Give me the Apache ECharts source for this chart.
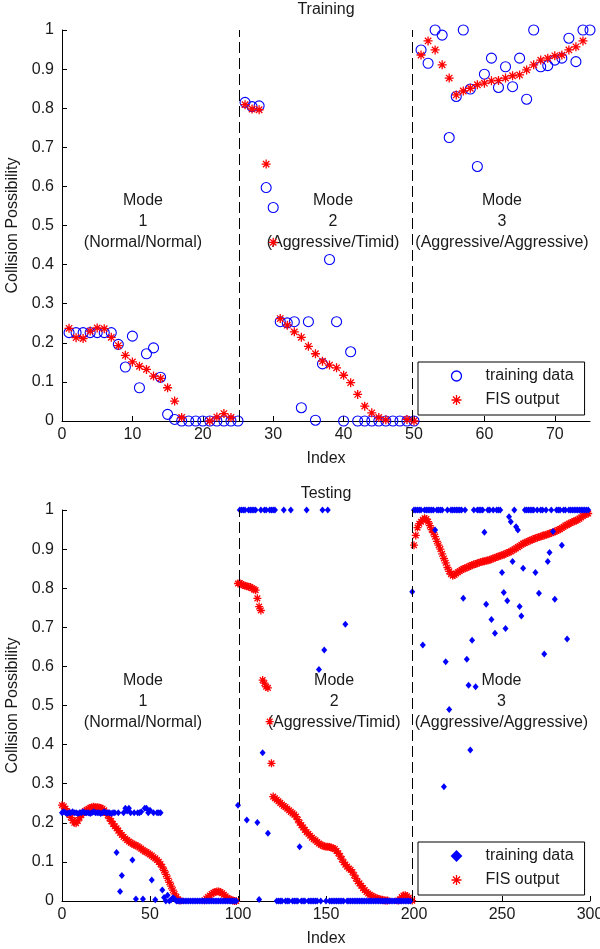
<!DOCTYPE html>
<html><head><meta charset="utf-8">
<script src="https://cdn.jsdelivr.net/npm/echarts@6/dist/echarts.min.js"></script>
<style>html,body{margin:0;padding:0;background:#fff}#c{width:600px;height:949px}</style>
</head><body><div id="c"></div>
<script>
// ---------- DATA ----------
// Training (index 1..75)
const trainData = [0.226,0.226,0.226,0.226,0.226,0.226,0.226,0.196,0.138,0.217,0.085,0.172,0.187,0.112,0.017,0.004,0,0,0,0,0,0,0,0,0,
  0.815,0.804,0.806,0.597,0.546,0.254,0.251,0.254,0.034,0.254,0.002,0.146,0.413,0.254,0,0.177,0,0,0,0,0,0,0,0,0,
  0.949,0.915,1.0,0.987,0.725,0.830,1.0,0.849,0.651,0.887,0.928,0.853,0.906,0.855,0.928,0.823,1.0,0.906,0.909,0.923,0.928,0.979,0.919,1.0,1.0];
const trainFis = [0.237,0.213,0.211,0.230,0.238,0.236,0.214,0.193,0.168,0.151,0.140,0.132,0.115,0.109,0.085,0.051,0.009,-0.02,-0.02,-0.02,0.000,0.010,0.019,0.009,-0.02,
  0.809,0.798,0.796,0.657,0.457,0.262,0.245,0.228,0.214,0.191,0.172,0.153,0.143,0.136,0.117,0.098,0.068,0.038,0.021,0.009,0.003,-0.02,-0.02,0.004,0.000,
  0.936,0.972,0.949,0.911,0.877,0.834,0.844,0.851,0.860,0.864,0.870,0.871,0.877,0.883,0.885,0.898,0.911,0.923,0.928,0.934,0.936,0.949,0.957,0.972,1.02];
// Testing (index 0..299)
const testData = [
  0.226,0.228,0.226,0.224,0.226,0.226,0.228,0.226,0.226,0.224,
  0.226,0.226,0.228,0.226,0.226,0.226,0.224,0.226,0.228,0.226,
  0.226,0.226,0.224,0.226,0.228,0.226,0.226,0.226,0.224,0.226,
  0.226,0.124,0.226,0.024,0.065,0.226,0.237,0.230,0.237,0.226,
  0.105,0.226,0.005,0.226,0.226,0.228,0.005,0.237,0.237,0.226,
  0.232,0.054,0.226,0.003,0.226,0.226,0.226,0.028,0.009,0,
  0.015,0,0.003,0.008,0.005,0,0,0,0,0,
  0,0,0,0,0,0,0,0,0,0,
  0,0,0,0,0,0,0,0,0,0,
  0,0,0,0,0,0,0,0,0,0,
  0.245,1,1,1,1,0.207,1,1,1,1,
  1,0.201,0.004,1,0.379,1,1,0.173,1,1,
  1,1,0,0,0,0,1,0,0,0,
  1,0,0,0,0,0.139,0,0,0,1,
  0,0,0,0,0,0,0.592,0,1,0.642,
  0,1,0,0,0,0,0,0,0,0,
  0,0.708,0,0,0,0,0,0,0,0,
  0,0,0,0,0,0,0,0,0,0,
  0,0,0,0,0,0,0,0,0,0,
  0,0,0,0,0,0,0,0,0,0.791,
  1,1,1,1,1,0.655,1,1,1,1,
  1,1,0.949,1,1,1,1,0.292,0.612,1,
  0.490,1,1,1,1,1,1,1,0.774,1,
  0.618,0.552,0.386,0.667,1,0.548,1,1,1,1,
  0.943,0.759,1,1,0.720,1,0.685,1,1,1,
  0.840,0.789,0.697,0.768,0.983,0.970,0.868,1,0.957,0.949,
  0.753,0.729,0.851,1,1,1,1,1,1,0.840,
  1,0.787,1,1,0.632,1,0.868,0.891,1,0.945,
  0.772,1,1,1,0.910,1,1,0.670,1,1,
  1,1,1,1,1,1,1,1,1,1];
const testFis = [
  0.245,0.242,0.236,0.229,0.222,0.214,0.206,0.200,0.199,0.205,
  0.213,0.220,0.226,0.230,0.233,0.236,0.238,0.240,0.241,0.240,
  0.240,0.239,0.238,0.236,0.232,0.226,0.219,0.211,0.204,0.197,
  0.191,0.186,0.180,0.174,0.169,0.164,0.160,0.156,0.152,0.149,
  0.147,0.144,0.142,0.140,0.137,0.134,0.130,0.127,0.125,0.122,
  0.119,0.116,0.112,0.109,0.105,0.100,0.094,0.087,0.078,0.068,
  0.058,0.048,0.038,0.028,0.018,0.010,0.004,0.001,-0.02,-0.02,
  -0.02,-0.02,-0.02,-0.02,-0.02,-0.02,-0.02,-0.02,-0.02,-0.02,
  -0.02,0.002,0.006,0.010,0.014,0.018,0.021,0.023,0.024,0.024,
  0.023,0.020,0.016,0.012,0.008,0.005,0.003,0.001,0.000,0.000,
  0.812,0.813,0.810,0.808,0.806,0.805,0.804,0.803,0.800,0.797,
  0.795,0.774,0.753,0.743,0.565,0.557,0.548,0.545,0.459,0.352,
  0.267,0.263,0.259,0.255,0.251,0.247,0.243,0.240,0.236,0.232,
  0.228,0.224,0.221,0.216,0.208,0.200,0.194,0.188,0.182,0.176,
  0.172,0.167,0.162,0.158,0.155,0.151,0.147,0.144,0.142,0.140,
  0.139,0.139,0.138,0.137,0.135,0.133,0.128,0.122,0.115,0.107,
  0.099,0.093,0.088,0.083,0.080,0.074,0.066,0.058,0.050,0.045,
  0.039,0.033,0.028,0.023,0.019,0.016,0.013,0.011,0.008,0.007,
  0.005,0.004,0.003,0.002,0.001,0.001,-0.02,-0.02,-0.02,-0.02,
  -0.02,0.001,0.004,0.010,0.014,0.015,0.012,0.008,0.004,0.001,
  0.910,0.935,0.955,0.965,0.970,0.975,0.979,0.977,0.970,0.960,
  0.950,0.942,0.932,0.920,0.910,0.900,0.888,0.876,0.865,0.853,
  0.843,0.836,0.832,0.834,0.838,0.841,0.844,0.847,0.849,0.851,
  0.853,0.855,0.857,0.859,0.861,0.862,0.864,0.865,0.867,0.868,
  0.869,0.870,0.871,0.873,0.874,0.876,0.878,0.880,0.881,0.883,
  0.884,0.886,0.888,0.890,0.892,0.894,0.897,0.899,0.902,0.905,
  0.908,0.911,0.914,0.916,0.918,0.920,0.922,0.924,0.926,0.928,
  0.929,0.931,0.932,0.934,0.935,0.937,0.938,0.940,0.941,0.943,
  0.945,0.947,0.949,0.951,0.954,0.957,0.960,0.962,0.965,0.967,
  0.969,0.971,0.973,0.975,0.978,0.981,0.985,0.988,0.990,0.991];
const topXTicks = [0,10,20,30,40,50,60,70];
const botXTicks = [0,50,100,150,200,250,300];
const yTicks = [0,0.1,0.2,0.3,0.4,0.5,0.6,0.7,0.8,0.9,1];
const modeLabels = ['Mode\n1\n(Normal/Normal)','Mode\n2\n(Aggressive/Timid)','Mode\n3\n(Aggressive/Aggressive)'];
const legendNames = ['training data','FIS output'];

// ---------- LAYOUT / STYLE ----------
const trainIndex = trainData.map((v,i)=>i+1);
const testIndex = testData.map((v,i)=>i);
const topModeAnchorX = [11.5, 38.5, 62.5];
const botModeAnchorX = [46, 154.6, 249.7];
const modeAnchorY = 0.511;
const topDividers = [25.2, 49.8];
const botDividers = [100.8, 199.2];

const FONT = '"Liberation Sans", Arial, sans-serif';
const TXT = '#1a1a1a';
const STAR = 'path://M5,0L5,10M0,5L10,5M1.46,1.46L8.54,8.54M8.54,1.46L1.46,8.54';
const BLUE = '#0000ff', RED = '#ff0000';

function xAxisCfg(gi, max, ticks){
  return {gridIndex:gi, type:'value', min:0, max:max, name:'Index', nameLocation:'middle', nameGap:30,
    nameTextStyle:{fontSize:16, color:TXT, fontFamily:FONT},
    axisLine:{lineStyle:{color:'#000', width:1}},
    axisTick:{inside:true, length:5, lineStyle:{color:'#000'}, customValues:ticks},
    axisLabel:{customValues:ticks, fontSize:16, color:TXT, fontFamily:FONT, margin:6},
    splitLine:{show:false}};
}
function yAxisCfg(gi){
  return {gridIndex:gi, type:'value', min:0, max:1, name:'Collision Possibility', nameLocation:'middle', nameGap:41,
    nameTextStyle:{fontSize:16, color:TXT, fontFamily:FONT},
    axisLine:{lineStyle:{color:'#000', width:1}},
    axisTick:{inside:true, length:5, lineStyle:{color:'#000'}, customValues:yTicks},
    axisLabel:{customValues:yTicks, fontSize:16, color:TXT, fontFamily:FONT, margin:8},
    splitLine:{show:false}};
}
function modeSeries(gi, xs, dividers){
  return {type:'scatter', xAxisIndex:gi, yAxisIndex:gi, silent:true, symbolSize:1, z:1,
    itemStyle:{color:'rgba(0,0,0,0)', opacity:1},
    data: xs.map((x,i)=>({value:[x, modeAnchorY], name:modeLabels[i]})),
    label:{show:true, position:'inside', formatter:'{b}', fontSize:16, lineHeight:21, color:TXT,
      fontFamily:FONT, opacity:1, textBorderWidth:0},
    markLine:{silent:true, symbol:['none','none'], label:{show:false}, animation:false,
      lineStyle:{type:[11,5], color:'#000', width:1, opacity:1},
      data: dividers.map(d=>({xAxis:d}))}
  };
}
function legendCfg(top, names, icons){
  return {data: names.map((n,i)=>({name:n, icon:icons[i]})), left:418, top:top, orient:'vertical',
    itemWidth:10, itemHeight:10, itemGap:6, padding:[5,11,6,31], borderColor:'#000', borderWidth:1,
    backgroundColor:'#fff', selectedMode:false, itemStyle:{borderWidth:1.3, opacity:1},
    formatter: n => n.split('|')[0],
    textStyle:{fontSize:16, lineHeight:18, color:TXT, fontFamily:FONT, padding:[0,0,0,19]}};
}

const option = {
  animation:false,
  backgroundColor:'#fff',
  grid:[{left:62, top:30, width:528, height:391, outerBoundsMode:'none', containLabel:false},
        {left:62, top:510, width:528, height:391, outerBoundsMode:'none', containLabel:false}],
  xAxis:[xAxisCfg(0,75,topXTicks), xAxisCfg(1,300,botXTicks)],
  yAxis:[yAxisCfg(0), yAxisCfg(1)],
  graphic:[
    {type:'text', x:326, y:10, style:{text:'Training', align:'center', verticalAlign:'middle', fontSize:16, fill:TXT, fontFamily:FONT}},
    {type:'text', x:326, y:494, style:{text:'Testing', align:'center', verticalAlign:'middle', fontSize:16, fill:TXT, fontFamily:FONT}}
  ],
  legend:[
    legendCfg(362, [legendNames[0], legendNames[1]], ['circle', STAR]),
    legendCfg(842, [legendNames[0]+'|t', legendNames[1]+'|t'], ['diamond', STAR])
  ],
  series:[
    modeSeries(0, topModeAnchorX, topDividers),
    modeSeries(1, botModeAnchorX, botDividers),
    {type:'scatter', name:legendNames[0], xAxisIndex:0, yAxisIndex:0, clip:true, silent:true, z:2,
      symbol:'circle', symbolSize:10,
      itemStyle:{color:'rgba(0,0,0,0)', borderColor:BLUE, borderWidth:1.1, opacity:1},
      data: trainIndex.map((x,i)=>[x, trainData[i]])},
    {type:'scatter', name:legendNames[1], xAxisIndex:0, yAxisIndex:0, clip:true, silent:true, z:3,
      symbol:STAR, symbolSize:9,
      itemStyle:{color:'none', borderColor:RED, borderWidth:1.3, opacity:1},
      data: trainIndex.map((x,i)=>[x, trainFis[i]])},
    {type:'scatter', name:legendNames[0]+'|t', xAxisIndex:1, yAxisIndex:1, clip:true, silent:true, z:3,
      symbol:'diamond', symbolSize:[6,7],
      itemStyle:{color:BLUE, borderColor:BLUE, borderWidth:0, opacity:1},
      data: testIndex.map((x,i)=>[x, testData[i]])},
    {type:'scatter', name:legendNames[1]+'|t', xAxisIndex:1, yAxisIndex:1, clip:true, silent:true, z:2,
      symbol:STAR, symbolSize:8,
      itemStyle:{color:'none', borderColor:RED, borderWidth:1.3, opacity:1},
      data: testIndex.map((x,i)=>[x, testFis[i]])}
  ]
};
const chart = echarts.init(document.getElementById('c'), null, {renderer:'canvas'});
chart.setOption(option);
</script></body></html>
